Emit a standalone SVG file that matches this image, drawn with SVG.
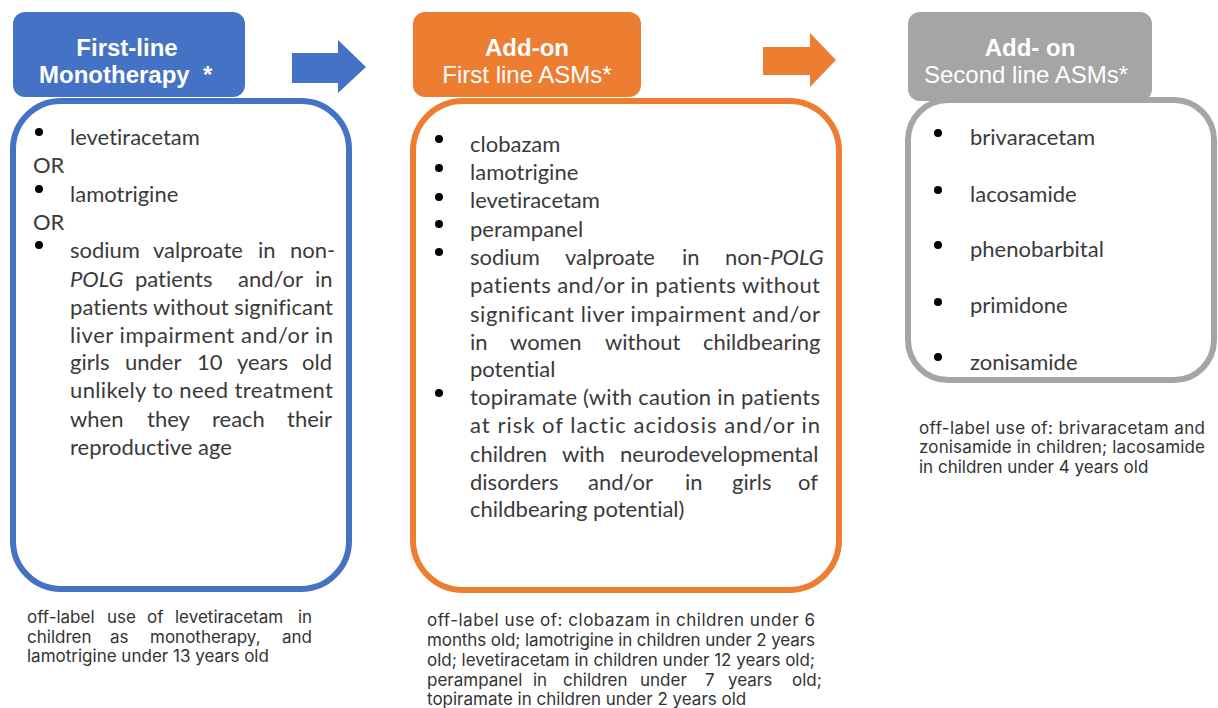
<svg xmlns="http://www.w3.org/2000/svg" width="1218" height="708" viewBox="0 0 1218 708">
<style>
.hd{font-family:"Liberation Sans",Arial,sans-serif;font-size:24px;fill:#fff;text-anchor:middle}
.b{font-weight:bold}
.tx{font-family:Lato,"Open Sans",sans-serif;font-size:22px;fill:#3a3a3a;font-variant-ligatures:none;font-feature-settings:"liga" 0}
.it{font-style:italic}
.fn{font-family:Inter,"Liberation Sans",sans-serif;font-size:17px;fill:#333}
.box{fill:#fff;stroke-width:6}
.dot{fill:#000}
</style>
<rect width="1218" height="708" fill="#fff"/>
<g id="connectors">
<polygon points="292,53 338,53 338,40 366,67 338,93 338,83 292,83" fill="#4472C4"/>
<polygon points="763,47 810,47 810,33 836,60 810,87 810,75 763,75" fill="#ED7D31"/>
</g>
<g id="first-line">
<rect class="box" x="13" y="101" width="336" height="488" rx="48" stroke="#4472C4"/>
<rect x="13" y="12" width="232" height="85" rx="12" fill="#4472C4"/>
<text class="hd b" x="127" y="56">First-line</text>
<text class="hd b" y="83" style="text-anchor:start"><tspan x="39">Monotherapy</tspan><tspan x="203">*</tspan></text>
<circle class="dot" cx="39" cy="132" r="4"/>
<circle class="dot" cx="39" cy="189" r="4"/>
<circle class="dot" cx="39" cy="245" r="4"/>
<text class="tx" x="70" y="145">levetiracetam</text>
<text class="tx" x="33" y="173">OR</text>
<text class="tx" x="70" y="202">lamotrigine</text>
<text class="tx" x="33" y="230">OR</text>
<text class="tx" y="258"><tspan x="70">sodium</tspan><tspan x="153">valproate</tspan><tspan x="258">in</tspan><tspan x="290">non-</tspan></text>
<text class="tx" y="287"><tspan x="70" class="it">POLG</tspan><tspan x="135">patients</tspan><tspan x="238">and/or</tspan><tspan x="315">in</tspan></text>
<text class="tx" x="70" y="315" textLength="263" lengthAdjust="spacing">patients without significant</text>
<text class="tx" x="70" y="343" textLength="263" lengthAdjust="spacing">liver impairment and/or in</text>
<text class="tx" y="370"><tspan x="70">girls</tspan><tspan x="125">under</tspan><tspan x="197">10</tspan><tspan x="237">years</tspan><tspan x="302">old</tspan></text>
<text class="tx" x="70" y="398" textLength="263" lengthAdjust="spacing">unlikely to need treatment</text>
<text class="tx" y="427"><tspan x="70">when</tspan><tspan x="147">they</tspan><tspan x="212">reach</tspan><tspan x="287">their</tspan></text>
<text class="tx" x="70" y="455">reproductive age</text>
<text class="fn" y="623"><tspan x="27">off-label</tspan><tspan x="107">use</tspan><tspan x="147">of</tspan><tspan x="175">levetiracetam</tspan><tspan x="298">in</tspan></text>
<text class="fn" y="643"><tspan x="27">children</tspan><tspan x="110">as</tspan><tspan x="150">monotherapy,</tspan><tspan x="282">and</tspan></text>
<text class="fn" x="27" y="662">lamotrigine under 13 years old</text>
</g>
<g id="add-on-first">
<rect class="box" x="413" y="101" width="426" height="489" rx="50" stroke="#ED7D31"/>
<rect x="413" y="12" width="228" height="85" rx="12" fill="#ED7D31"/>
<text class="hd b" x="527" y="56">Add-on</text>
<text class="hd" x="527" y="83">First line ASMs*</text>
<circle class="dot" cx="439" cy="139" r="4"/>
<circle class="dot" cx="439" cy="168" r="4"/>
<circle class="dot" cx="439" cy="197" r="4"/>
<circle class="dot" cx="439" cy="224" r="4"/>
<circle class="dot" cx="439" cy="252" r="4"/>
<circle class="dot" cx="439" cy="393" r="4"/>
<text class="tx" x="470" y="152">clobazam</text>
<text class="tx" x="470" y="180">lamotrigine</text>
<text class="tx" x="470" y="208">levetiracetam</text>
<text class="tx" x="470" y="237">perampanel</text>
<text class="tx" y="265"><tspan x="470">sodium</tspan><tspan x="565">valproate</tspan><tspan x="682">in</tspan><tspan x="725">non-</tspan><tspan class="it">POLG</tspan></text>
<text class="tx" x="470" y="293" textLength="350" lengthAdjust="spacing">patients  and/or in patients without</text>
<text class="tx" x="470" y="322" textLength="350" lengthAdjust="spacing">significant liver impairment and/or</text>
<text class="tx" y="350"><tspan x="470">in</tspan><tspan x="510">women</tspan><tspan x="605">without</tspan><tspan x="703">childbearing</tspan></text>
<text class="tx" x="470" y="377">potential</text>
<text class="tx" x="470" y="405" textLength="350" lengthAdjust="spacing">topiramate (with caution in patients</text>
<text class="tx" x="470" y="433" textLength="350" lengthAdjust="spacing">at risk of lactic acidosis and/or in</text>
<text class="tx" y="462"><tspan x="470">children</tspan><tspan x="562">with</tspan><tspan x="620">neurodevelopmental</tspan></text>
<text class="tx" y="490"><tspan x="470">disorders</tspan><tspan x="588">and/or</tspan><tspan x="685">in</tspan><tspan x="732">girls</tspan><tspan x="798">of</tspan></text>
<text class="tx" x="470" y="517">childbearing potential)</text>
<text class="fn" x="427" y="626" textLength="388" lengthAdjust="spacing">off-label use of: clobazam in children under 6</text>
<text class="fn" x="427" y="646" textLength="388" lengthAdjust="spacing">months old; lamotrigine in children under 2 years</text>
<text class="fn" x="427" y="666" textLength="388" lengthAdjust="spacing">old; levetiracetam in children under 12 years old;</text>
<text class="fn" y="686"><tspan x="427">perampanel</tspan><tspan x="533">in</tspan><tspan x="563">children</tspan><tspan x="640">under</tspan><tspan x="705">7</tspan><tspan x="728">years</tspan><tspan x="792">old;</tspan></text>
<text class="fn" x="427" y="705">topiramate in children under 2 years old</text>
</g>
<g id="add-on-second">
<rect class="box" x="908" y="100" width="306" height="280" rx="40" stroke="#A5A5A5"/>
<rect x="908" y="12" width="244" height="89" rx="12" fill="#A5A5A5"/>
<text class="hd b" x="1030" y="56">Add- on</text>
<text class="hd" x="1026" y="83">Second line ASMs*</text>
<circle class="dot" cx="938" cy="133" r="4"/>
<circle class="dot" cx="938" cy="190" r="4"/>
<circle class="dot" cx="938" cy="245" r="4"/>
<circle class="dot" cx="938" cy="302" r="4"/>
<circle class="dot" cx="938" cy="357" r="4"/>
<text class="tx" x="970" y="145">brivaracetam</text>
<text class="tx" x="970" y="202">lacosamide</text>
<text class="tx" x="970" y="257">phenobarbital</text>
<text class="tx" x="970" y="313">primidone</text>
<text class="tx" x="970" y="370">zonisamide</text>
<text class="fn" x="919" y="434" textLength="286" lengthAdjust="spacing">off-label use of: brivaracetam and</text>
<text class="fn" x="919" y="453" textLength="286" lengthAdjust="spacing">zonisamide in children; lacosamide</text>
<text class="fn" x="919" y="473">in children under 4 years old</text>
</g>
</svg>
